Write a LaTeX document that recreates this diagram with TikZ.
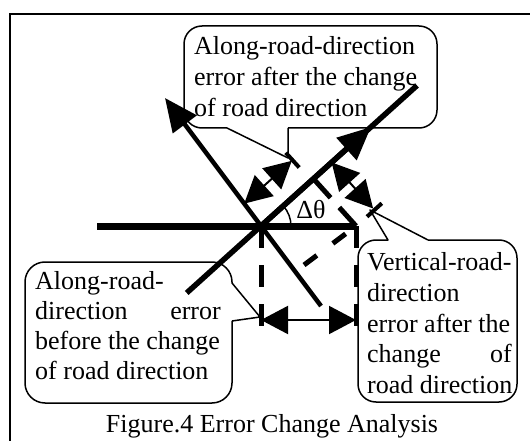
\documentclass[tikz,border=0pt]{standalone}
\usepackage{fontspec}
\setmainfont{Liberation Serif}
\usetikzlibrary{arrows.meta}
\begin{document}
\begin{tikzpicture}[x=1pt,y=-1pt,
  txt/.style={font=\fontsize{26}{30}\selectfont, inner sep=0pt, anchor=base west},
  txtr/.style={font=\fontsize{26}{30}\selectfont, inner sep=0pt, anchor=base east},
  boxline/.style={line width=1.5pt, line join=round},
  bigtip/.style={-{Triangle[length=33pt,width=29pt]}},
  dimline/.style={line width=2pt, {Triangle[length=27pt,width=28pt]}-{Triangle[length=27pt,width=28pt]}},
  dsh/.style={line width=5pt, dash pattern=on 22pt off 17pt},
  tickline/.style={line width=4pt}
]
\useasboundingbox (0,0) rectangle (530,441);
% frame
\draw[line width=2pt] (9.5,441) -- (9.5,14) -- (530,14);

% key points
\coordinate (O) at (261,226);
\coordinate (H) at (356,226);
\coordinate (W) at (97,226);
\coordinate (NEa) at (186.7,292.9);
\coordinate (NEb) at (417,85.5);
\coordinate (NEt) at (371,127);
\coordinate (NWt) at (165,98);
\coordinate (NWe) at (321,306);
\coordinate (F1) at (313.5,178.8);
\coordinate (F2) at (295.2,271.6);
\coordinate (Vb1) at (261,327);
\coordinate (Vb2) at (356,327);
\coordinate (D1) at (261,320);
\coordinate (D2) at (356,320);
\coordinate (A1) at (244.2,203.6);
\coordinate (A2) at (291.8,160.8);
\coordinate (At1) at (285.8,152.7);
\coordinate (At2) at (299.2,167.5);
\coordinate (P1) at (331.6,162.4);
\coordinate (P2) at (373.1,208.5);
\coordinate (Pt1) at (367,216.7);
\coordinate (Pt2) at (381.8,203.3);

% callouts
\draw[boxline] (288,128) -- (288,158) -- (227,128) [rounded corners=18pt] -- (184,128) -- (184,26) -- (437,26) -- (437,128) -- (288,128);
\draw[boxline] (232,321) -- (260,317) -- (232,283) [rounded corners=20pt] -- (232,262) -- (25,262) -- (25,403) -- (232,403) -- (232,321);
\draw[boxline] (428,240) -- (370,210) -- (388,240) [rounded corners=18pt] -- (358,240) -- (358,402) -- (517,402) -- (517,240) -- (428,240);

% roads
\draw[line width=7pt] (W) -- (H);
\draw[line width=5.5pt] (NEa) -- (NEb);
\draw[line width=5.5pt, bigtip] (O) -- (NEt);
\draw[line width=4.5pt, bigtip] (NWe) -- (NWt);

% dashed construction lines
\draw[dsh] (O) -- (Vb1);
\draw[dsh] (H) -- (Vb2);
\draw[line width=5pt, dash pattern=on 25pt off 13pt] (H) -- (F1);
\draw[line width=5pt, dash pattern=on 16pt off 20pt, dash phase=23pt] (H) -- (F2);

% dimensions
\draw[dimline] (D1) -- (D2);
\draw[dimline] (A1) -- (A2);
\draw[tickline] (At1) -- (At2);
\draw[dimline] (P1) -- (P2);
\draw[tickline] (Pt1) -- (Pt2);

% angle
\draw[line width=1.5pt] (291,226) arc[start angle=0, end angle=-42, radius=30];
\node[font=\fontsize{26}{30}\selectfont, inner sep=0pt, anchor=base] (dt) at (311,218) {Δθ};

% top callout text
\node[txt] (t1a) at (194,55) {Along-road-direction};
\node[txt] (t1b) at (194,86) {error after the change};
\node[txt] (t1c) at (194,117) {of road direction};
% left callout text
\node[txt] (t2a) at (35,289) {Along-road-};
\node[txt] (t2b) at (35,319) {direction};
\node[txtr] (t2c) at (221,319) {error};
\node[txt] (t2d) at (35,349) {before the change};
\node[txt] (t2e) at (35,379) {of road direction};
% right callout text
\node[txt] (t3a) at (367,270) {Vertical-road-};
\node[txt] (t3b) at (367,301) {direction};
\node[txt] (t3c) at (367,332) {error after the};
\node[txt] (t3d) at (367,362) {change};
\node[txtr] (t3e) at (512,362) {of};
\node[txt] (t3f) at (367,393) {road direction};
% caption
\node[font=\fontsize{26}{30}\selectfont, inner sep=0pt, anchor=base] (cap) at (272,432) {Figure.4 Error Change Analysis};
\end{tikzpicture}
\end{document}
